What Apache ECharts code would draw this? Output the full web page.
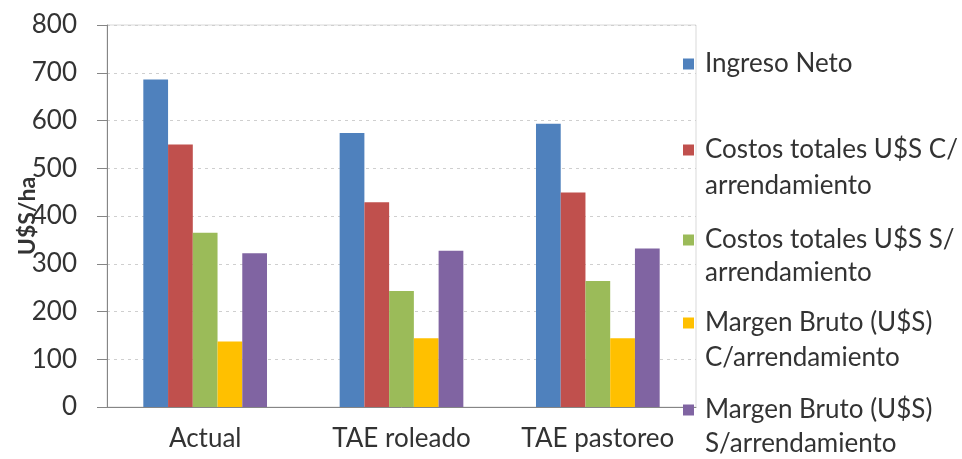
<!DOCTYPE html>
<html>
<head>
<meta charset="utf-8">
<script src="https://cdn.jsdelivr.net/npm/echarts@6/dist/echarts.min.js"></script>
<style>
  html, body { margin: 0; padding: 0; background: #fff; }
  #chart { width: 962px; height: 459px; }
</style>
</head>
<body>
<div id="chart"></div>
<script>
// Escenarios comparados
const categories = ['Actual', 'TAE roleado', 'TAE pastoreo'];

// Valores en U$S/ha por escenario
const ingresoNeto = [686, 574, 593];
const costosConArr = [550, 429, 449];
const costosSinArr = [365, 243, 264];
const margenConArr = [137, 144, 144];
const margenSinArr = [322, 327, 332];

const yTicks = [0, 100, 200, 300, 400, 500, 600, 700, 800];

const seriesNames = [
  'Ingreso Neto',
  'Costos totales U$S C/\narrendamiento',
  'Costos totales U$S S/\narrendamiento',
  'Margen Bruto (U$S)\nC/arrendamiento',
  'Margen Bruto (U$S)\nS/arrendamiento'
];
const seriesData = [ingresoNeto, costosConArr, costosSinArr, margenConArr, margenSinArr];
const colors = ['#4F81BD', '#C0504D', '#9BBB59', '#FFC000', '#8064A2'];

const FONT = 'Lato, "Open Sans", sans-serif';
const TEXT = '#333333';
const FS = 26;

// Legend rows: vertical center of the first and second line of each entry
const legendFirst = [64, 150, 240, 323, 410];
const legendSecond = [null, 186, 273, 358, 444];

const chart = echarts.init(document.getElementById('chart'));

const legends = seriesNames.map((name, i) => ({
  data: [name],
  left: 683,
  top: legendFirst[i] - 15,
  padding: 0,
  itemWidth: 11,
  itemHeight: 11,
  icon: 'rect',
  selectedMode: false,
  formatter: n => n.split('\n')[0],
  textStyle: { fontFamily: FONT, fontSize: FS, color: TEXT, lineHeight: 30, padding: [0, 0, 0, 6] }
}));

// Second lines of the two-line legend entries
const secondLines = [];
seriesNames.forEach((name, i) => {
  const parts = name.split('\n');
  if (parts.length > 1) {
    secondLines.push({
      type: 'text',
      x: 705,
      y: legendSecond[i],
      style: { text: parts[1], font: FS + 'px ' + FONT, fill: TEXT, verticalAlign: 'middle' }
    });
  }
});

chart.setOption({
  animation: false,
  color: colors,
  grid: {
    left: 107, right: 266, top: 25, bottom: 52,
    containLabel: false,
    outerBoundsMode: 'none',
    show: true, borderColor: '#D9D9D9', borderWidth: 1
  },
  legend: legends,
  graphic: secondLines,
  xAxis: {
    type: 'category',
    data: categories,
    axisLine: { lineStyle: { color: '#868686', width: 1 } },
    axisTick: { show: false },
    axisLabel: { interval: 0, hideOverlap: false, fontFamily: FONT, fontSize: FS, color: TEXT, margin: 19 }
  },
  yAxis: {
    type: 'value',
    min: yTicks[0],
    max: yTicks[yTicks.length - 1],
    interval: 100,
    name: 'U$S/ha',
    nameLocation: 'middle',
    nameGap: 68,
    nameMoveOverlap: false,
    nameTextStyle: { fontFamily: FONT, fontSize: 23, fontWeight: 'bold', color: TEXT },
    axisLine: { show: true, lineStyle: { color: '#868686', width: 1 } },
    axisTick: { show: true, inside: false, length: 10, lineStyle: { color: '#868686' } },
    axisLabel: { fontFamily: FONT, fontSize: FS, color: TEXT, margin: 30 },
    splitLine: { lineStyle: { color: '#CFCFCF', type: [3, 4], width: 1 } }
  },
  series: seriesNames.map((name, i) => ({
    type: 'bar',
    name: name,
    data: seriesData[i],
    barGap: '0%',
    barCategoryGap: '37%',
    itemStyle: { color: colors[i] }
  }))
});
</script>
</body>
</html>
